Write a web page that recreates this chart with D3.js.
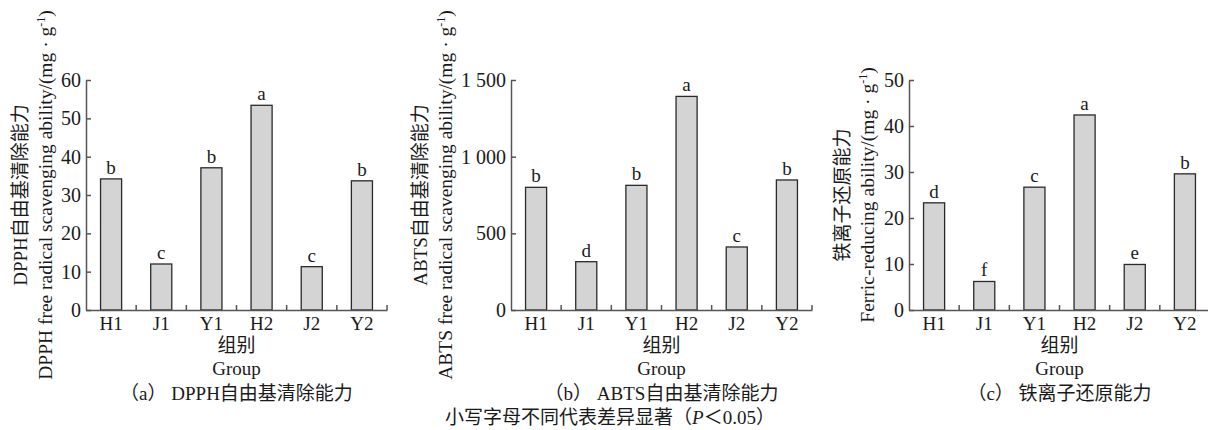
<!DOCTYPE html>
<html>
<head>
<meta charset="utf-8">
<script src="https://cdn.jsdelivr.net/npm/d3@7"></script>
<style>
  body { margin: 0; background: #fff; }
  svg { display: block; }
  text { font-family: "Liberation Serif", "Noto Sans CJK SC", serif; fill: #1a1a1a; }
</style>
</head>
<body>
<div id="chart"></div>
<script>
const groups = ["H1", "J1", "Y1", "H2", "J2", "Y2"];

const dpphValues = [34.2, 12.0, 37.1, 53.4, 11.3, 33.7];
const dpphLetters = ["b", "c", "b", "a", "c", "b"];
const dpphTicks = [0, 10, 20, 30, 40, 50, 60];

const abtsValues = [800, 315, 813, 1393, 411, 848];
const abtsLetters = ["b", "d", "b", "a", "c", "b"];
const abtsTicks = [0, 500, 1000, 1500];

const fraValues = [23.3, 6.2, 26.7, 42.4, 9.9, 29.6];
const fraLetters = ["d", "f", "c", "a", "e", "b"];
const fraTicks = [0, 10, 20, 30, 40, 50];

const width = 1208, height = 430;
const plotTop = 80, plotBottom = 310;

const svg = d3.select("#chart").append("svg")
    .attr("width", width)
    .attr("height", height);

const spaceFmt = d3.formatLocale({ decimal: ".", thousands: " ", grouping: [3], currency: ["", ""] }).format(",");

function drawPanel(opts) {
    const g = svg.append("g");
    const x0 = opts.left, x1 = opts.left + 301;

    const x = d3.scaleBand().domain(groups).range([x0, x1])
        .paddingInner(0.58).paddingOuter(0.29);
    const y = d3.scaleLinear().domain([0, d3.max(opts.ticks)]).range([plotBottom, plotTop]);

    // bars
    g.selectAll("rect.bar")
        .data(opts.values)
        .join("rect")
        .attr("class", "bar")
        .attr("x", (d, i) => x(groups[i]))
        .attr("y", d => y(d))
        .attr("width", x.bandwidth())
        .attr("height", d => plotBottom - y(d))
        .attr("fill", "#d4d4d4")
        .attr("stroke", "#2a2a2a")
        .attr("stroke-width", 1.3);

    // significance letters
    g.selectAll("text.sig")
        .data(opts.values)
        .join("text")
        .attr("class", "sig")
        .attr("x", (d, i) => x(groups[i]) + x.bandwidth() / 2)
        .attr("y", d => y(d) - 5)
        .attr("text-anchor", "middle")
        .attr("font-size", 19)
        .text((d, i) => opts.letters[i]);

    // y axis
    const yAxis = d3.axisLeft(y)
        .tickValues(opts.ticks)
        .tickFormat(opts.format || d3.format("d"))
        .tickSizeInner(-5)
        .tickSizeOuter(0)
        .tickPadding(5);
    const ya = g.append("g")
        .attr("transform", `translate(${x0},0)`)
        .call(yAxis);
    ya.selectAll("text").attr("font-size", 20).attr("fill", "#1a1a1a")
        .style("font-family", "Liberation Serif");

    // x axis
    const xAxis = d3.axisBottom(x).tickSize(0).tickPadding(7);
    const xa = g.append("g")
        .attr("transform", `translate(0,${plotBottom})`)
        .call(xAxis);
    xa.selectAll("text").attr("font-size", 19).attr("fill", "#1a1a1a")
        .style("font-family", "Liberation Serif");
    xa.selectAll(".boundary")
        .data(d3.range(1, groups.length + 1))
        .join("line")
        .attr("class", "boundary")
        .attr("x1", i => x0 + i * x.step())
        .attr("x2", i => x0 + i * x.step())
        .attr("y1", 0)
        .attr("y2", -5);

    g.selectAll(".domain, .tick line, .boundary")
        .attr("stroke", "#555")
        .attr("stroke-width", 1.5);

    // y titles (two lines, rotated)
    const cy = (plotTop + plotBottom) / 2;
    g.append("text")
        .attr("transform", `translate(${x0 + opts.t1},${cy}) rotate(-90)`)
        .attr("text-anchor", "middle")
        .attr("dy", "0.35em")
        .attr("font-size", 19)
        .text(opts.title1);
    const t2 = g.append("text")
        .attr("transform", `translate(${x0 + opts.t2},${cy}) rotate(-90)`)
        .attr("text-anchor", "middle")
        .attr("dy", "0.35em")
        .attr("font-size", 19.5);
    t2.append("tspan").text(opts.title2 + "/(mg · g");
    t2.append("tspan").attr("baseline-shift", "super").attr("font-size", 12).text("-1");
    t2.append("tspan").text(")");

    // x titles
    const cx = (x0 + x1) / 2;
    g.append("text").attr("x", cx).attr("y", 352).attr("text-anchor", "middle")
        .attr("font-size", 19).text("组别");
    g.append("text").attr("x", cx).attr("y", 375).attr("text-anchor", "middle")
        .attr("font-size", 19).text("Group");
    g.append("text").attr("x", cx).attr("y", 400).attr("text-anchor", "middle")
        .attr("font-size", 19).text(opts.caption);
}

drawPanel({
    left: 86, values: dpphValues, letters: dpphLetters, ticks: dpphTicks,
    t1: -66, t2: -41,
    title1: "DPPH自由基清除能力",
    title2: "DPPH free radical scavenging ability",
    caption: "（a） DPPH自由基清除能力"
});

drawPanel({
    left: 511, values: abtsValues, letters: abtsLetters, ticks: abtsTicks,
    format: spaceFmt,
    t1: -91, t2: -66,
    title1: "ABTS自由基清除能力",
    title2: "ABTS free radical scavenging ability",
    caption: "（b） ABTS自由基清除能力"
});

drawPanel({
    left: 909, values: fraValues, letters: fraLetters, ticks: fraTicks,
    t1: -67, t2: -42,
    title1: "铁离子还原能力",
    title2: "Ferric-reducing ability",
    caption: "（c） 铁离子还原能力"
});

const note = svg.append("text")
    .attr("x", 610).attr("y", 424)
    .attr("text-anchor", "middle")
    .attr("font-size", 19);
note.append("tspan").text("小写字母不同代表差异显著（");
note.append("tspan").attr("font-style", "italic").text("P");
note.append("tspan").text("＜0.05）");
</script>
</body>
</html>
